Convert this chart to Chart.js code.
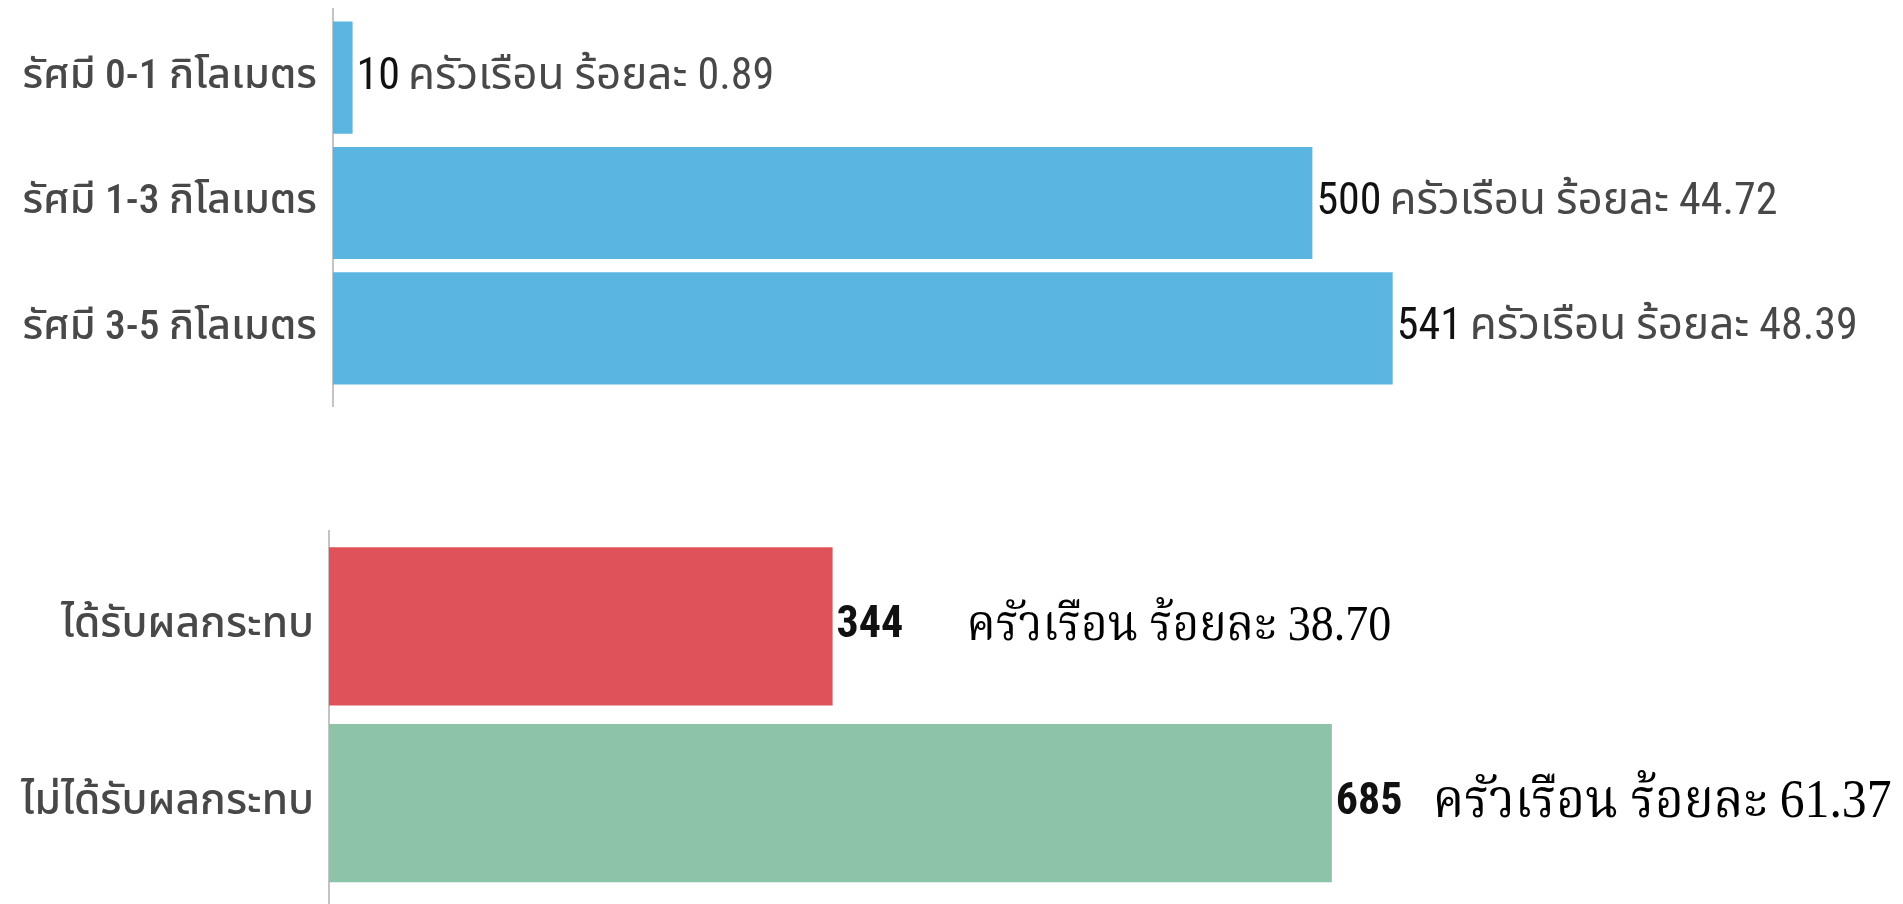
<!DOCTYPE html>
<html lang="th">
<head>
<meta charset="utf-8">
<title>ครัวเรือนตามรัศมีและผลกระทบ</title>
<script src="https://cdn.jsdelivr.net/npm/chart.js@4.4.1/dist/chart.umd.min.js"></script>
<style>
    html, body { margin: 0; padding: 0; background: #fff; }
    body { width: 1903px; height: 904px; position: relative; overflow: hidden; }
    canvas { position: absolute; left: 0; }
    #radiusChart { top: 0; }
    #impactChart { top: 500px; }
</style>
</head>
<body>
<canvas id="radiusChart" width="1903" height="410"></canvas>
<canvas id="impactChart" width="1903" height="404"></canvas>
<script>
// ข้อมูลกราฟบน: ครัวเรือนตามรัศมี
const radiusLabels = ['รัศมี 0-1 กิโลเมตร', 'รัศมี 1-3 กิโลเมตร', 'รัศมี 3-5 กิโลเมตร'];
const radiusHouseholds = [10, 500, 541];
const radiusPercent = ['0.89', '44.72', '48.39'];

// ข้อมูลกราฟล่าง: ได้รับ / ไม่ได้รับผลกระทบ
const impactLabels = ['ได้รับผลกระทบ', 'ไม่ได้รับผลกระทบ'];
const impactHouseholds = [344, 685];
const impactPercent = ['38.70', '61.37'];

const COLORS = {
    blue: '#5ab6e0',
    red: '#e0525a',
    green: '#8cc3a9',
    axis: '#c4c4c4',
    tick: '#484848',
    number: '#111111'
};

const SANS = "'Roboto Condensed', Roboto, 'Noto Sans Thai', 'Noto Sans', sans-serif";
const SERIF = "'Liberation Serif', 'Noto Serif Thai', 'DejaVu Serif', serif";

// เส้นแกนตั้งด้านซ้าย (ยาวเลยพื้นที่กราฟเล็กน้อย)
const axisLine = {
    id: 'axisLine',
    beforeDatasetsDraw(chart, args, opts) {
        const { ctx, chartArea } = chart;
        ctx.save();
        ctx.strokeStyle = COLORS.axis;
        ctx.lineWidth = 2;
        ctx.beginPath();
        ctx.moveTo(chartArea.left, chartArea.top - opts.extendTop);
        ctx.lineTo(chartArea.left, chartArea.bottom + opts.extendBottom);
        ctx.stroke();
        ctx.restore();
    }
};

// ป้ายค่าท้ายแท่ง: ตัวเลขสีดำ ตามด้วยข้อความ
const valueLabels = {
    id: 'valueLabels',
    afterDatasetsDraw(chart, args, opts) {
        const { ctx } = chart;
        const meta = chart.getDatasetMeta(0);
        const values = chart.data.datasets[0].data;
        ctx.save();
        ctx.textBaseline = 'middle';
        ctx.textAlign = 'left';
        meta.data.forEach((bar, i) => {
            const x = bar.x + opts.gap;
            const y = bar.y;
            ctx.font = opts.numberFont;
            ctx.fillStyle = COLORS.number;
            const num = String(values[i]);
            ctx.fillText(num, x, y);
            const w = ctx.measureText(num).width;

            const rest = `ครัวเรือน ร้อยละ ${opts.percent[i]}`;
            const restX = opts.restOffset ? bar.x + opts.restOffset[i] : x + w + opts.space;
            const textFont = Array.isArray(opts.textFont) ? opts.textFont[i] : opts.textFont;
            ctx.save();
            ctx.font = textFont;
            ctx.fillStyle = opts.textColor;
            ctx.translate(restX, y);
            ctx.scale(opts.restScaleX, 1);
            ctx.fillText(rest, 0, 0);
            ctx.restore();
        });
        ctx.restore();
    }
};

function barOptions(max, axisWidth, padding, tickFont, tickGap, labelOpts, axisOpts) {
    return {
        indexAxis: 'y',
        responsive: false,
        animation: false,
        layout: { padding },
        plugins: {
            legend: { display: false },
            tooltip: { enabled: false },
            valueLabels: labelOpts,
            axisLine: axisOpts
        },
        scales: {
            x: { display: false, min: 0, max },
            y: {
                grid: { display: false, drawTicks: true, tickLength: tickGap },
                border: { display: false },
                ticks: { color: COLORS.tick, font: tickFont, padding: 0 },
                afterFit(scale) { scale.width = axisWidth; }
            }
        }
    };
}

new Chart(document.getElementById('radiusChart'), {
    type: 'bar',
    data: {
        labels: radiusLabels,
        datasets: [{
            data: radiusHouseholds,
            backgroundColor: COLORS.blue,
            categoryPercentage: 1,
            barPercentage: 0.895
        }]
    },
    options: barOptions(
        800, 333,
        { top: 15, bottom: 19, left: 0, right: 3 },
        { family: SANS, size: 41.5, weight: '500', lineHeight: 0.5 }, 16,
        {
            gap: 4, space: 8, restScaleX: 1,
            numberFont: `44px ${SANS}`,
            textFont: `44px ${SANS}`,
            textColor: COLORS.tick,
            percent: radiusPercent
        },
        { extendTop: 7, extendBottom: 16 }
    ),
    plugins: [axisLine, valueLabels]
});

new Chart(document.getElementById('impactChart'), {
    type: 'bar',
    data: {
        labels: impactLabels,
        datasets: [{
            data: impactHouseholds,
            backgroundColor: [COLORS.red, COLORS.green],
            categoryPercentage: 1,
            barPercentage: 0.895
        }]
    },
    options: barOptions(
        1000, 329,
        { top: 38, bottom: 12.5, left: 0, right: 110 },
        { family: SANS, size: 42.5, weight: '500', lineHeight: 0.5 }, 15,
        {
            gap: 4, space: 30, restScaleX: 0.92,
            numberFont: `bold 44px ${SANS}`,
            textFont: [`50px ${SERIF}`, `54px ${SERIF}`],
            textColor: '#000',
            percent: impactPercent,
            restOffset: [134, 101]
        },
        { extendTop: 8, extendBottom: 13 }
    ),
    plugins: [axisLine, valueLabels]
});
</script>
</body>
</html>
